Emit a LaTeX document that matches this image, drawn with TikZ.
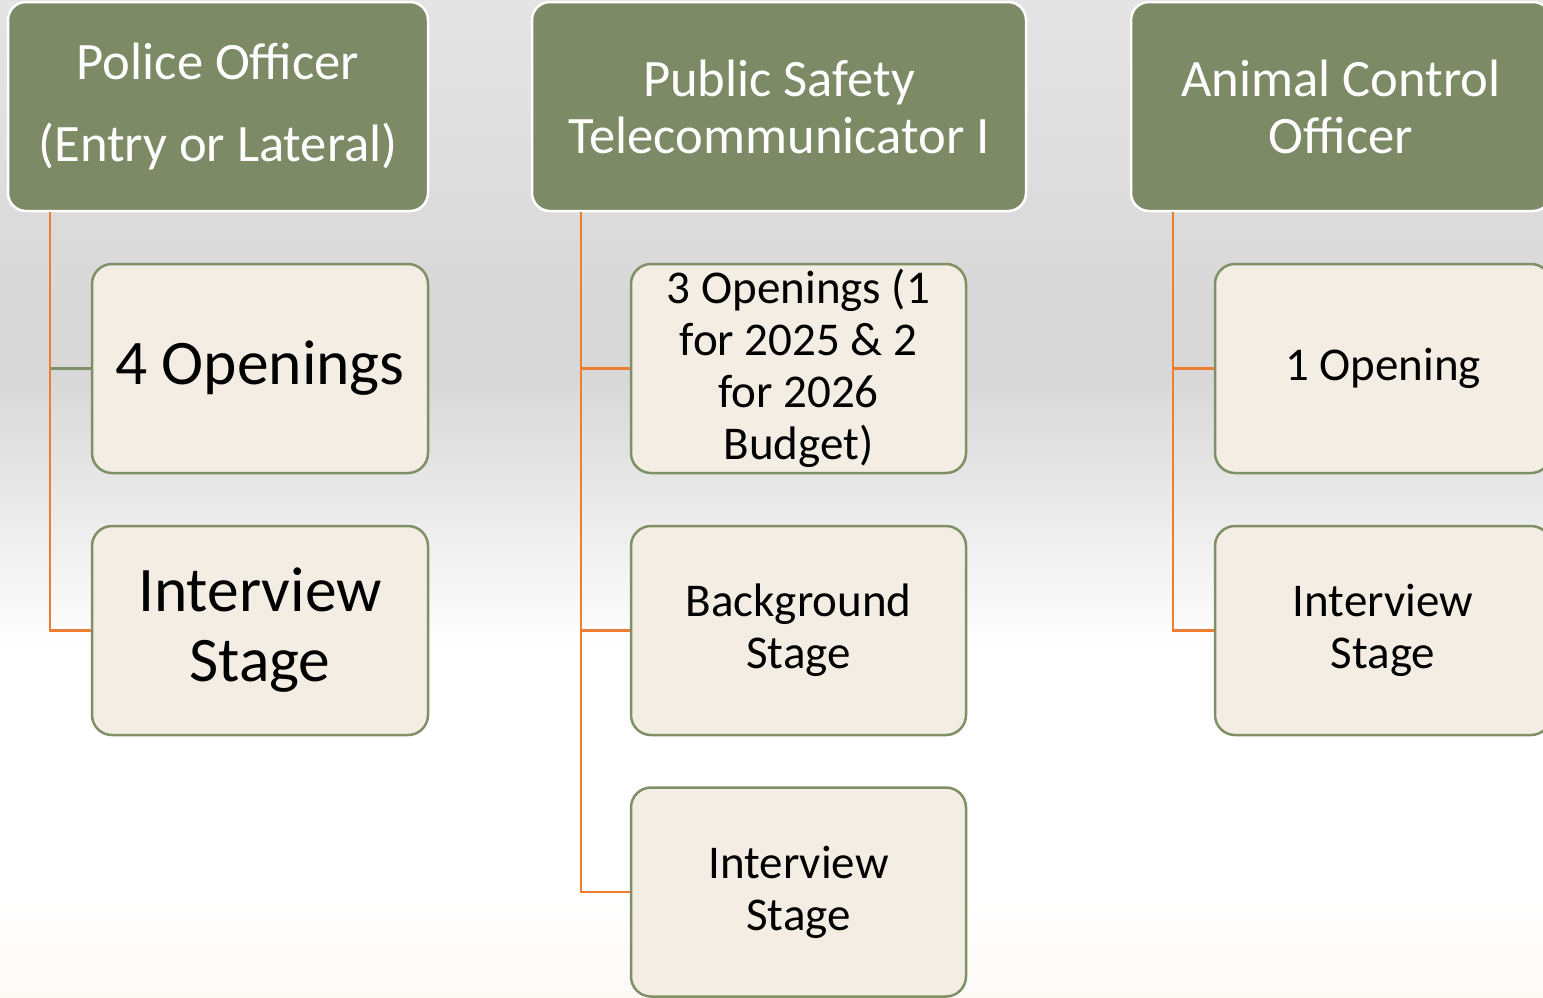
\documentclass[tikz,border=0pt]{standalone}
\usepackage{fontspec}
\setmainfont{Carlito}
\definecolor{hdrfill}{HTML}{7C8B65}
\definecolor{kidfill}{HTML}{F3EDE3}
\definecolor{kidline}{HTML}{7F9067}
\definecolor{orangeline}{HTML}{ED7D31}
\definecolor{bgtop}{HTML}{E4E4E4}
\definecolor{bgmid}{HTML}{D8D8D8}
\definecolor{bgbot}{HTML}{FDFAF6}
\tikzset{
  hdr/.style={rectangle, rounded corners=18pt, fill=hdrfill, draw=white, line width=2.5pt,
    text=white, align=center, inner sep=0pt, minimum height=209pt,
    font=\fontsize{52.6}{57}\selectfont},
  kid/.style={rectangle, rounded corners=20pt, fill=kidfill, draw=kidline, line width=2.5pt,
    text=black, align=center, inner sep=0pt, minimum height=209pt},
  kidbig/.style={kid, minimum width=336pt, font=\fontsize{63.5}{70}\selectfont},
  kidsmall/.style={kid, font=\fontsize{47}{52}\selectfont},
  conn/.style={draw=orangeline, line width=2.5pt},
  conng/.style={draw=kidline, line width=2.5pt}
}
\begin{document}
\begin{tikzpicture}[x=1pt,y=-1pt]
\useasboundingbox (0,0) rectangle (1543,997);
\clip (0,0) rectangle (1543,997);
% background
\shade[top color=bgtop, bottom color=bgmid] (0,0) rectangle (1543,300);
\fill[bgmid] (0,299) rectangle (1543,381);
\shade[top color=bgmid, bottom color=white] (0,380) rectangle (1543,650);
\fill[white] (0,649) rectangle (1543,901);
\shade[top color=white, bottom color=bgbot] (0,900) rectangle (1543,997);

% headers
\node[hdr, minimum width=420pt] (h1) at (218,106.5) {Police Officer\\[25pt](Entry or Lateral)};
\node[hdr, minimum width=494pt] (h2) at (779,106.5) {Public Safety\\Telecommunicator I};
\node[hdr, minimum width=420pt] (h3) at (1341,106.5) {Animal Control\\Officer};

% column 1
\node[kidbig] (a1) at (260,368.5) {4 Openings};
\node[kidbig] (a2) at (260,630.5) {Interview\\Stage};
% column 2
\node[kidsmall, minimum width=335pt] (b1) at (798.5,368.5) {3 Openings (1\\for 2025 \& 2\\for 2026\\Budget)};
\node[kidsmall, minimum width=335pt] (b2) at (798.5,630.5) {Background\\Stage};
\node[kidsmall, minimum width=335pt] (b3) at (798.5,892) {Interview\\Stage};
% column 3
\node[kidsmall, minimum width=336pt] (c1) at (1383,368.5) {1 Opening};
\node[kidsmall, minimum width=336pt] (c2) at (1383,630.5) {Interview\\Stage};

% connectors
\coordinate (v1) at (50,212);
\coordinate (v2) at (581,212);
\coordinate (v3) at (1173,212);
\draw[conng] (v1 |- a1.west) -- (a1.west);
\draw[conn] (v1) |- (a2.west);
\draw[conn] (v2 |- b1.west) -- (b1.west);
\draw[conn] (v2 |- b2.west) -- (b2.west);
\draw[conn] (v2) |- (b3.west);
\draw[conn] (v3 |- c1.west) -- (c1.west);
\draw[conn] (v3) |- (c2.west);
\end{tikzpicture}
\end{document}
